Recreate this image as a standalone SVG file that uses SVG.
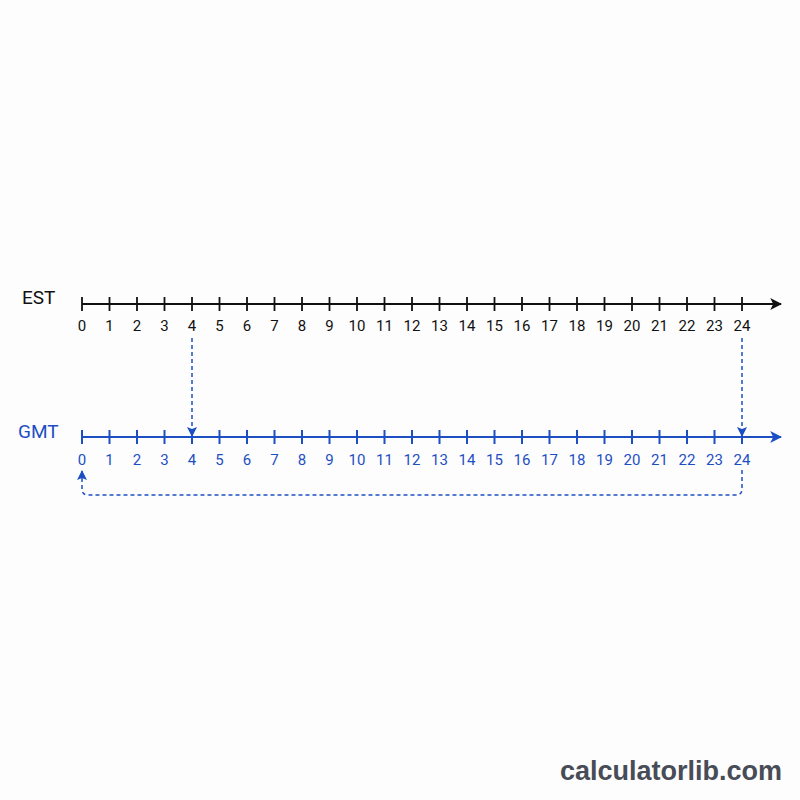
<svg xmlns="http://www.w3.org/2000/svg" width="800" height="800" viewBox="0 0 800 800">
<defs>
<style>
.lbl{font-family:Roboto,"Liberation Sans",sans-serif;font-size:15px;text-anchor:middle}
.est{fill:#111}
.gmt{fill:#1d4fc4}
.title{font-family:Roboto,"Liberation Sans",sans-serif;font-size:19px}
.axE{stroke:#111;stroke-width:1.8;fill:none}
.axG{stroke:#1d4fc4;stroke-width:2;fill:none}
.dash{stroke:#1d4fc4;stroke-width:1.5;stroke-dasharray:4 3;fill:none}
</style>
<marker id="arrE" viewBox="0 0 10 10" refX="9" refY="5" markerWidth="12" markerHeight="12" markerUnits="userSpaceOnUse" orient="auto"><path d="M0,0 L10,5 L0,10 L2.5,5 Z" fill="#111"/></marker>
<marker id="arrG" viewBox="0 0 10 10" refX="9" refY="5" markerWidth="12" markerHeight="12" markerUnits="userSpaceOnUse" orient="auto"><path d="M0,0 L10,5 L0,10 L2.5,5 Z" fill="#1d4fc4"/></marker>
<marker id="arrD" viewBox="0 0 10 10" refX="10" refY="5" markerWidth="11" markerHeight="10" markerUnits="userSpaceOnUse" orient="auto"><path d="M0,0 L10,5 L0,10 L2,5 Z" fill="#1d4fc4"/></marker>
</defs>
<rect width="800" height="800" fill="#fdfdfd"/>
<g id="est-axis">
<text class="title est" x="22" y="304">EST</text>
<line class="axE" x1="82" y1="304" x2="781" y2="304" marker-end="url(#arrE)"/>
<path class="axE" d="M82,297V311M109.5,297V311M137,297V311M164.5,297V311M192,297V311M219.5,297V311M247,297V311M274.5,297V311M302,297V311M329.5,297V311M357,297V311M384.5,297V311M412,297V311M439.5,297V311M467,297V311M494.5,297V311M522,297V311M549.5,297V311M577,297V311M604.5,297V311M632,297V311M659.5,297V311M687,297V311M714.5,297V311M742,297V311"/>
<g class="lbl est">
<text x="82" y="331">0</text><text x="109.5" y="331">1</text><text x="137" y="331">2</text><text x="164.5" y="331">3</text><text x="192" y="331">4</text><text x="219.5" y="331">5</text><text x="247" y="331">6</text><text x="274.5" y="331">7</text><text x="302" y="331">8</text><text x="329.5" y="331">9</text><text x="357" y="331">10</text><text x="384.5" y="331">11</text><text x="412" y="331">12</text><text x="439.5" y="331">13</text><text x="467" y="331">14</text><text x="494.5" y="331">15</text><text x="522" y="331">16</text><text x="549.5" y="331">17</text><text x="577" y="331">18</text><text x="604.5" y="331">19</text><text x="632" y="331">20</text><text x="659.5" y="331">21</text><text x="687" y="331">22</text><text x="714.5" y="331">23</text><text x="742" y="331">24</text>
</g>
</g>
<g id="gmt-axis">
<text class="title gmt" x="18" y="438">GMT</text>
<line class="axG" x1="82" y1="437" x2="781" y2="437" marker-end="url(#arrG)"/>
<path class="axG" d="M82,430V444M109.5,430V444M137,430V444M164.5,430V444M192,430V444M219.5,430V444M247,430V444M274.5,430V444M302,430V444M329.5,430V444M357,430V444M384.5,430V444M412,430V444M439.5,430V444M467,430V444M494.5,430V444M522,430V444M549.5,430V444M577,430V444M604.5,430V444M632,430V444M659.5,430V444M687,430V444M714.5,430V444M742,430V444"/>
<g class="lbl gmt">
<text x="82" y="465">0</text><text x="109.5" y="465">1</text><text x="137" y="465">2</text><text x="164.5" y="465">3</text><text x="192" y="465">4</text><text x="219.5" y="465">5</text><text x="247" y="465">6</text><text x="274.5" y="465">7</text><text x="302" y="465">8</text><text x="329.5" y="465">9</text><text x="357" y="465">10</text><text x="384.5" y="465">11</text><text x="412" y="465">12</text><text x="439.5" y="465">13</text><text x="467" y="465">14</text><text x="494.5" y="465">15</text><text x="522" y="465">16</text><text x="549.5" y="465">17</text><text x="577" y="465">18</text><text x="604.5" y="465">19</text><text x="632" y="465">20</text><text x="659.5" y="465">21</text><text x="687" y="465">22</text><text x="714.5" y="465">23</text><text x="742" y="465">24</text>
</g>
</g>
<g id="connectors">
<line class="dash" x1="192" y1="338" x2="192" y2="437" marker-end="url(#arrD)"/>
<line class="dash" x1="742" y1="338" x2="742" y2="437" marker-end="url(#arrD)"/>
<path class="dash" d="M742,470V489Q742,495 736,495H88Q82,495 82,489V470" marker-end="url(#arrD)"/>
</g>
<text x="782" y="780" text-anchor="end" font-family="'Liberation Sans',Arial,sans-serif" font-weight="bold" font-size="27" fill="#474c57">calculatorlib.com</text>
</svg>
